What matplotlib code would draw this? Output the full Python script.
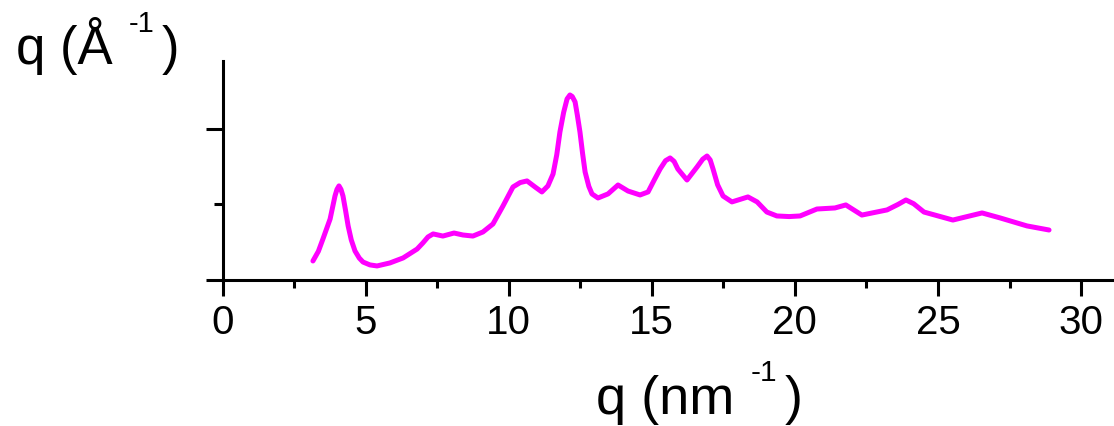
import numpy as np
import matplotlib
matplotlib.use("Agg")
import matplotlib.pyplot as plt
from matplotlib.ticker import MultipleLocator, FixedLocator, NullFormatter

plt.rcParams['font.family'] = ['Liberation Sans', 'DejaVu Sans']

# scattering curve (q in nm^-1, intensity in arbitrary units)
q = [3.16, 3.35, 3.51, 3.76, 3.93, 4.00, 4.07, 4.14, 4.21, 4.30, 4.39, 4.50,
     4.63, 4.78, 4.91, 5.15, 5.40, 5.85, 6.31, 6.80, 7.00, 7.18, 7.36, 7.70,
     8.09, 8.40, 8.75, 9.10, 9.45, 9.80, 10.15, 10.40, 10.64, 10.92, 11.16,
     11.37, 11.55, 11.68, 11.79, 11.92, 12.04, 12.14, 12.22, 12.32, 12.40,
     12.49, 12.58, 12.67, 12.80, 12.91, 13.12, 13.47, 13.82, 14.17, 14.59,
     14.87, 15.08, 15.29, 15.48, 15.64, 15.78, 15.91, 16.23, 16.58, 16.78,
     16.93, 17.04, 17.14, 17.30, 17.49, 17.80, 18.36, 18.68, 19.02, 19.37,
     19.80, 20.18, 20.77, 21.40, 21.78, 22.34, 23.22, 23.60, 23.88, 24.15,
     24.51, 25.52, 26.54, 27.17, 28.11, 28.88]
intensity = [0.126, 0.190, 0.272, 0.404, 0.556, 0.600, 0.623, 0.600, 0.556,
             0.460, 0.358, 0.265, 0.192, 0.145, 0.119, 0.100, 0.093, 0.113,
             0.146, 0.205, 0.245, 0.285, 0.305, 0.291, 0.311, 0.298, 0.291,
             0.318, 0.371, 0.490, 0.616, 0.645, 0.656, 0.616, 0.583, 0.623,
             0.702, 0.830, 0.980, 1.110, 1.199, 1.225, 1.215, 1.179, 1.090,
             0.980, 0.840, 0.715, 0.620, 0.570, 0.543, 0.570, 0.629, 0.589,
             0.563, 0.583, 0.660, 0.735, 0.790, 0.808, 0.785, 0.735, 0.662,
             0.748, 0.800, 0.821, 0.795, 0.735, 0.630, 0.556, 0.517, 0.550,
             0.517, 0.450, 0.424, 0.420, 0.424, 0.470, 0.477, 0.497, 0.430,
             0.464, 0.500, 0.530, 0.505, 0.450, 0.397, 0.444, 0.411, 0.358,
             0.331]

x_ticks = [0, 5, 10, 15, 20, 25, 30]
x_label = ("q (nm", "-1", ")")
top_label = ("q (Å", "-1", ")")

W, H = 1114, 427
fig = plt.figure(figsize=(W / 100, H / 100), dpi=100)
ax = fig.add_axes([222.5 / W, (H - 281) / H, (W - 222.5) / W, (281 - 62) / H])

ax.plot(q, intensity, color='#ff00ff', lw=3.6, solid_joinstyle='round',
        solid_capstyle='round')

ax.set_xlim(0, 31.15)
ax.set_ylim(0, 1.45)
for side in ('top', 'right'):
    ax.spines[side].set_visible(False)
for side in ('left', 'bottom'):
    ax.spines[side].set_linewidth(2.2)

ax.xaxis.set_major_locator(FixedLocator(x_ticks))
ax.xaxis.set_minor_locator(MultipleLocator(2.5))
ax.yaxis.set_major_locator(FixedLocator([0, 1]))
ax.yaxis.set_minor_locator(FixedLocator([0.5]))
ax.yaxis.set_major_formatter(NullFormatter())
ax.tick_params(axis='both', which='major', direction='out', width=2.2,
               length=11.5, labelsize=29, pad=5)
ax.tick_params(axis='both', which='minor', direction='out', width=2.2, length=5.5)
ax.tick_params(axis='y', which='major', length=12.5)
ax.tick_params(axis='y', which='minor', length=6.5)

fig.canvas.draw()
r = fig.canvas.get_renderer()


def unit_label(x_px, base_px, parts, size):
    main, sup, close = parts
    t = fig.text(x_px / W, 1 - base_px / H, main, fontsize=size, va='baseline')
    bb = t.get_window_extent(renderer=r)
    gap = size * 0.42
    s = fig.text((bb.x1 + gap) / W, 1 - (base_px - size * 0.85) / H, sup,
                 fontsize=size * 0.55, va='baseline')
    bb2 = s.get_window_extent(renderer=r)
    fig.text((bb2.x1 + size * 0.2) / W, 1 - base_px / H, close,
             fontsize=size, va='baseline')


unit_label(596, 414, x_label, 39)
unit_label(16, 64, top_label, 38)

fig.savefig('out.png', dpi=100)
